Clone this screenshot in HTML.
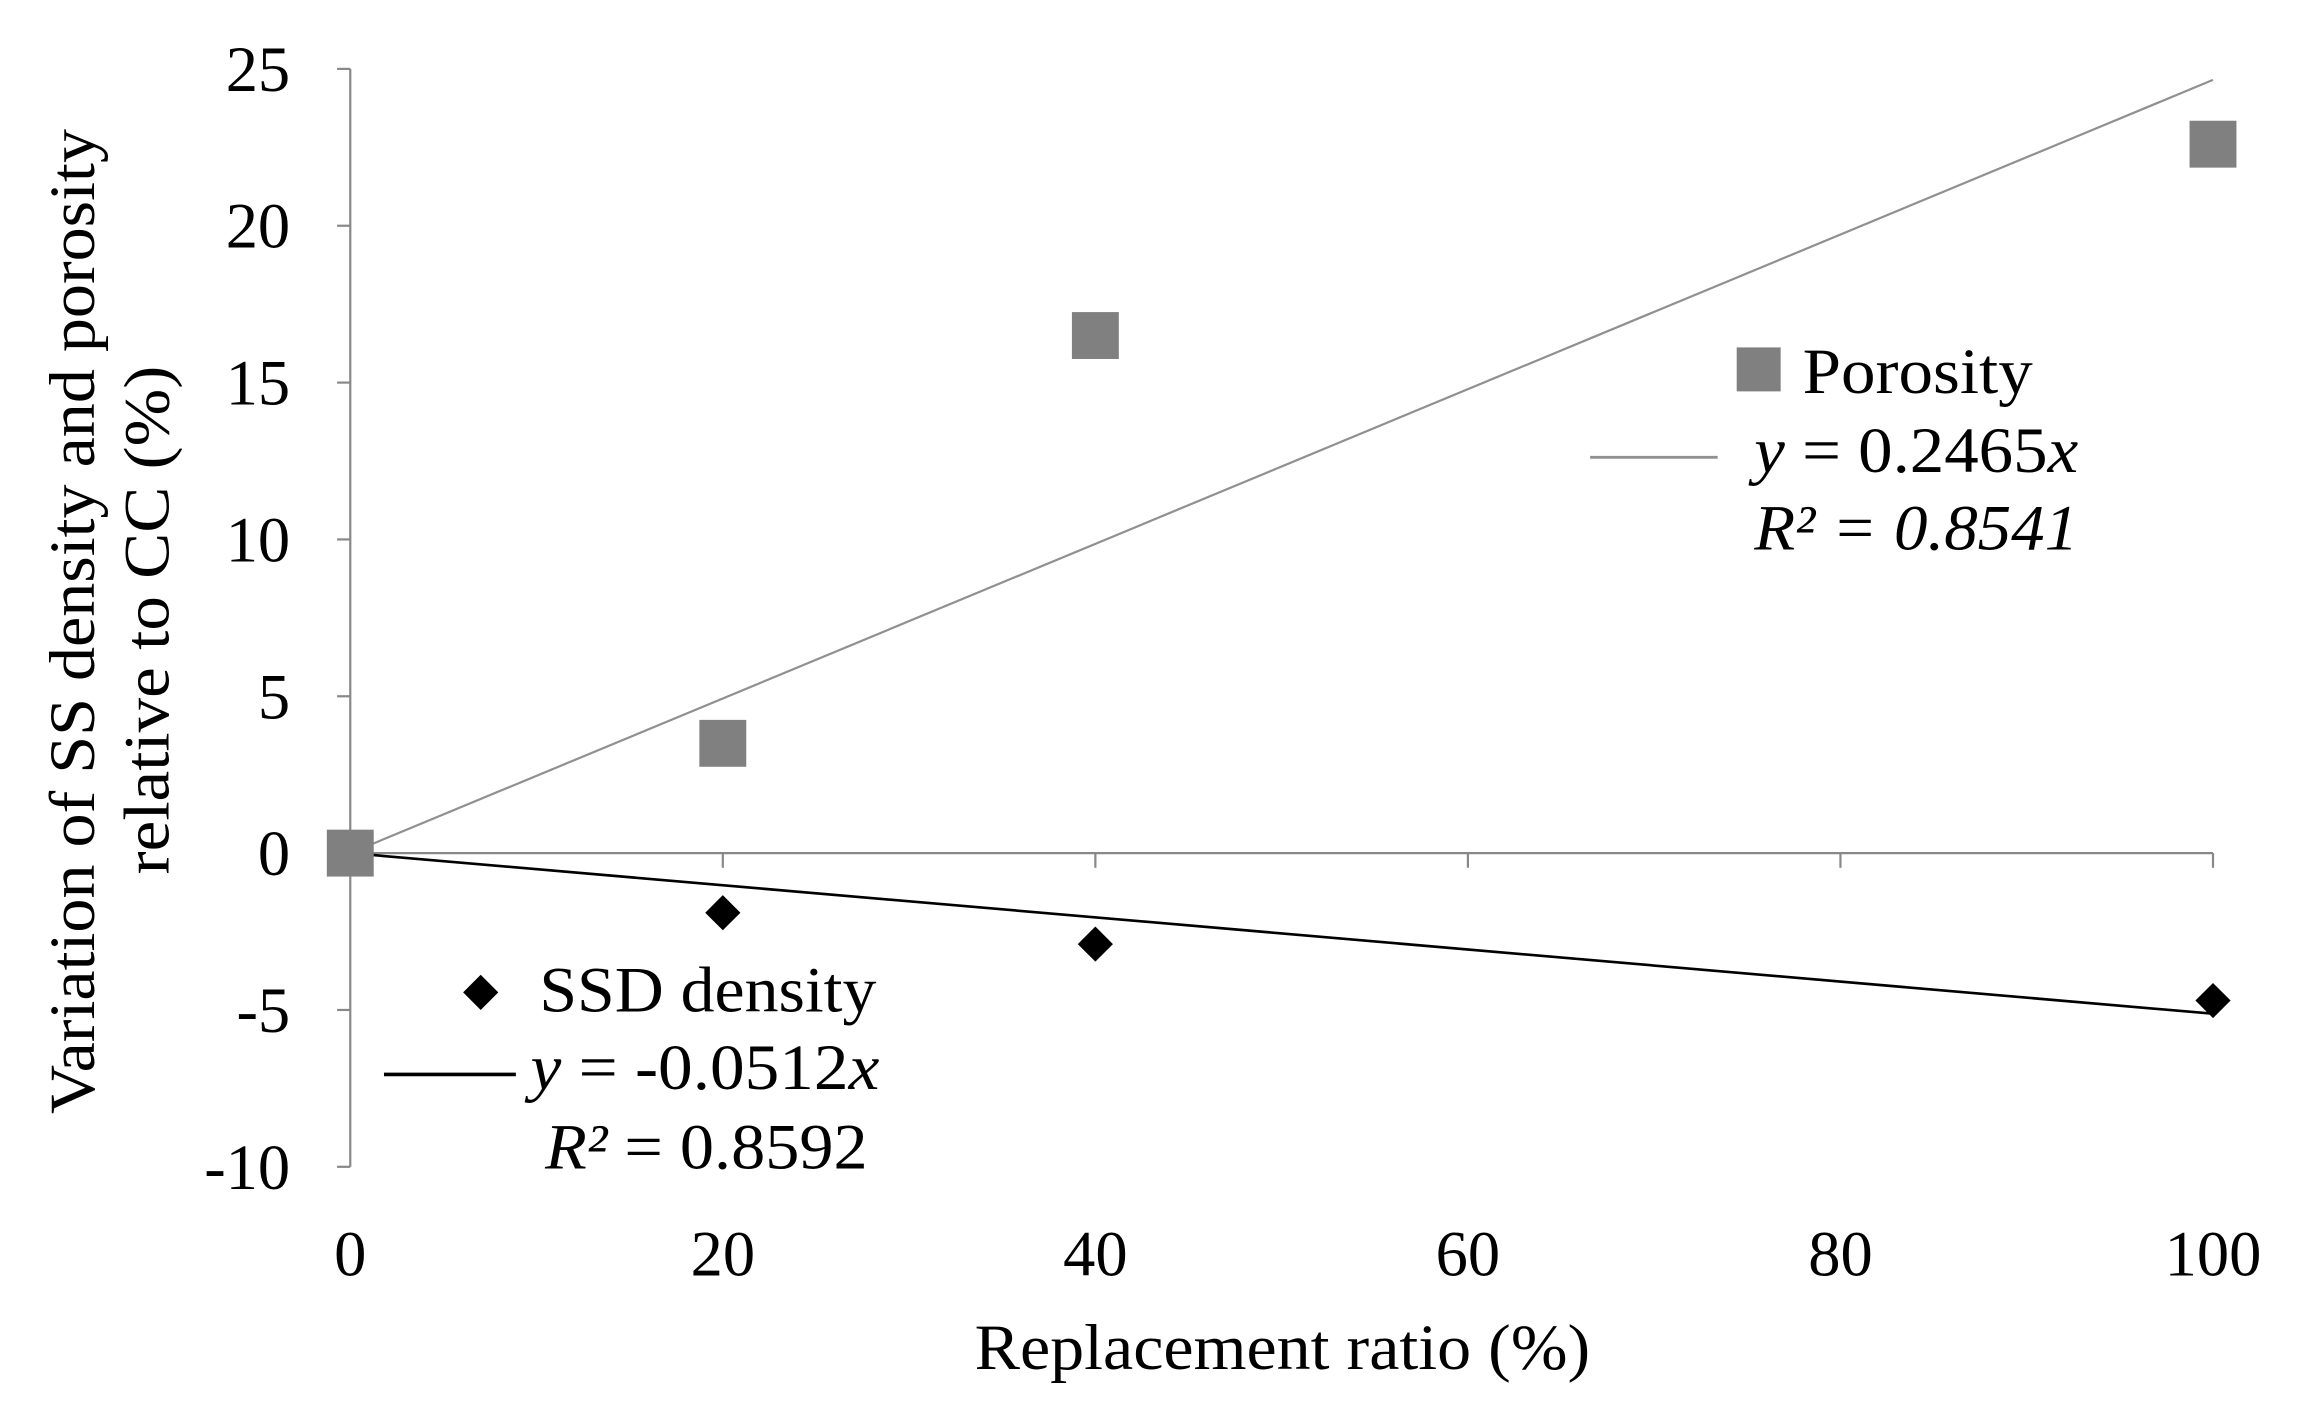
<!DOCTYPE html>
<html><head><meta charset="utf-8"><style>
html,body{margin:0;padding:0;background:#fff;}
svg{display:block;font-family:"Liberation Serif",serif;}
</style></head><body>
<svg id="chart" width="2298" height="1416" viewBox="0 0 1568 966" preserveAspectRatio="none" xmlns="http://www.w3.org/2000/svg">
<rect width="1568" height="966" fill="#fff"/>
<g id="axes"></g>
<g id="marks"></g>
<text transform="translate(64,424) rotate(-90)" text-anchor="middle" font-size="44" textLength="672" lengthAdjust="spacingAndGlyphs">Variation of SS density and porosity</text>
<text transform="translate(115,423) rotate(-90)" text-anchor="middle" font-size="44" textLength="347" lengthAdjust="spacingAndGlyphs">relative to CC (%)</text>
<text x="875" y="934" text-anchor="middle" font-size="44" textLength="420" lengthAdjust="spacingAndGlyphs">Replacement ratio (%)</text>
<g>
<rect x="1185" y="237" width="30" height="30" fill="#808080"/>
<text x="1230" y="268" font-size="44" textLength="157" lengthAdjust="spacingAndGlyphs">Porosity</text>
<line x1="1085" y1="312" x2="1172" y2="312" stroke="#909090" stroke-width="2"/>
<text x="1197" y="322" font-size="44" textLength="221" lengthAdjust="spacingAndGlyphs"><tspan font-style="italic">y</tspan> = 0.2465<tspan font-style="italic">x</tspan></text>
<text x="1197" y="375" font-size="44" font-style="italic" textLength="221" lengthAdjust="spacingAndGlyphs">R² = 0.8541</text>
</g>
<g>
<path d="M328,665 L340,677 L328,689 L316,677 Z" fill="#000"/>
<text x="368" y="690" font-size="44" textLength="230" lengthAdjust="spacingAndGlyphs">SSD density</text>
<line x1="262" y1="733" x2="352" y2="733" stroke="#000" stroke-width="2.5"/>
<text x="362" y="743" font-size="44" textLength="238" lengthAdjust="spacingAndGlyphs"><tspan font-style="italic">y</tspan> = -0.0512<tspan font-style="italic">x</tspan></text>
<text x="372" y="797" font-size="44" textLength="220" lengthAdjust="spacingAndGlyphs"><tspan font-style="italic">R²</tspan> = 0.8592</text>
</g>
</svg>
<script>
const xCategories = [0, 20, 40, 100];
const porosityValues = [0, 3.5, 16.5, 22.6];
const ssdValues = [0, -1.9, -2.9, -4.7];
const porositySlope = 0.2465;
const ssdSlope = -0.0512;
const yTicks = [25, 20, 15, 10, 5, 0, -5, -10];
const xTicks = [0, 20, 40, 60, 80, 100];

const NS = "http://www.w3.org/2000/svg";
function X(v){ return 239 + (v/100)*1271; }
function Y(v){ return 582 - v*21.4; }
function mk(tag, attrs, parent){
  const e = document.createElementNS(NS, tag);
  for (const k in attrs) e.setAttribute(k, attrs[k]);
  parent.appendChild(e); return e;
}
const axes = document.getElementById('axes');
const marks = document.getElementById('marks');

let yl = mk('line', {x1:X(0), y1:Y(25), x2:X(0), y2:Y(-10), stroke:'#888', 'stroke-width':1.5}, axes);


let xl = mk('line', {x1:X(0), y1:Y(0), x2:X(100), y2:Y(0), stroke:'#888', 'stroke-width':1.5}, axes);



yTicks.forEach(t => {
  const tk = mk('line', {x1:X(0)-9, y1:Y(t), x2:X(0), y2:Y(t), stroke:'#888', 'stroke-width':1.5}, axes);
  
  
  const lb = mk('text', {x:198, y:Y(t)+15, 'text-anchor':'end', 'font-size':44}, axes);
  lb.textContent = t;
  
  
});
xTicks.forEach(t => {
  const tk = mk('line', {x1:X(t), y1:Y(0), x2:X(t), y2:Y(0)+10, stroke:'#888', 'stroke-width':1.5}, axes);
  
  
  const lb = mk('text', {x:X(t), y:870, 'text-anchor':'middle', 'font-size':44}, axes);
  lb.textContent = t;
  
  
});

let pt = mk('line', {x1:X(0), y1:Y(0), x2:X(100), y2:Y(porositySlope*100), stroke:'#909090', 'stroke-width':1.5}, marks);


let st = mk('line', {x1:X(0), y1:Y(0), x2:X(100), y2:Y(ssdSlope*100), stroke:'#000', 'stroke-width':1.8}, marks);



xCategories.forEach((c,i) => {
  const x = X(c), y = Y(ssdValues[i]);
  const d = mk('path', {d:`M${x},${y-12} L${x+12},${y} L${x},${y+12} L${x-12},${y} Z`, fill:'#000'}, marks);
  
  
});
xCategories.forEach((c,i) => {
  const x = X(c), y = Y(porosityValues[i]);
  const r = mk('rect', {x:x-16, y:y-16, width:32, height:32, fill:'#808080'}, marks);
  
  
});
</script>
</body></html>
